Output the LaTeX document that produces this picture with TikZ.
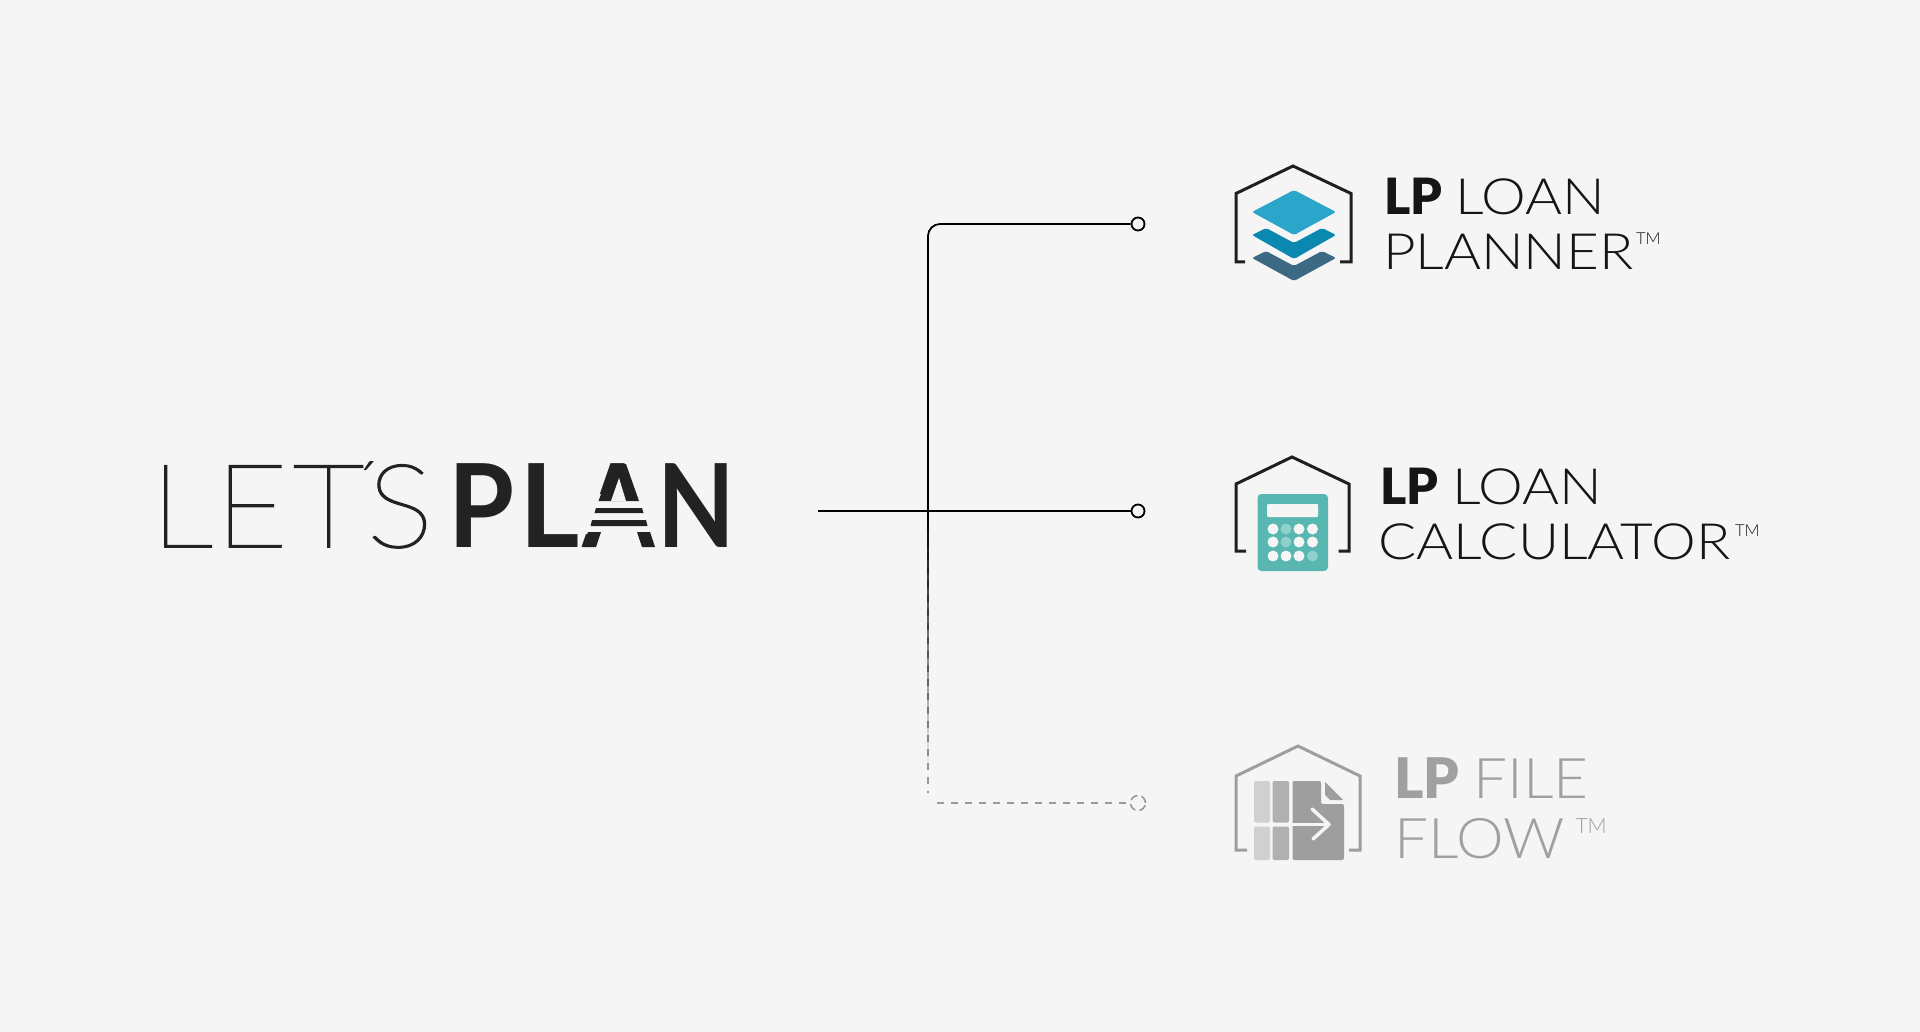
\documentclass[tikz,border=0pt]{standalone}
\usepackage{fontspec}
\setmainfont{Lato}
\newfontfamily\latoT{Lato Light}
\newfontfamily\latoS{Lato Light}[FakeStretch=1.13]
\newfontfamily\latoG{Lato Light}[FakeStretch=1.075]
\newfontfamily\latoH{Lato Thin}[FakeStretch=1.08,FakeBold=1.6]
\newfontfamily\latoB{Lato Black}
\newfontfamily\latoBd{Lato Bold}
\newfontfamily\latoBa{Lato Bold}[FakeStretch=0.88]
\newfontfamily\latoBp{Lato Bold}[FakeStretch=0.92]
\newfontfamily\latoBn{Lato Bold}[FakeStretch=0.87]
\definecolor{bgc}{HTML}{F5F5F5}
\definecolor{ink}{HTML}{222222}
\definecolor{inkb}{HTML}{151515}
\definecolor{gr}{HTML}{A0A0A0}
\definecolor{dashc}{HTML}{9A9A9A}
\definecolor{c1}{HTML}{2BA5C9}
\definecolor{c2}{HTML}{0A88B0}
\definecolor{c3}{HTML}{3C6A85}
\definecolor{teal}{HTML}{58B7B1}
\definecolor{teall}{HTML}{8FD0CB}
\definecolor{gl}{HTML}{D0D0D0}
\definecolor{gm}{HTML}{B0B0B0}
\definecolor{gd}{HTML}{9E9E9E}
\tikzset{
  x=1pt,y=-1pt,
  txt/.style={anchor=base west,inner sep=0pt,outer sep=0pt},
  big/.style={txt,font=\fontsize{116}{116}\selectfont\latoH,text=ink},
  bigq/.style={txt,font=\fontsize{67}{67}\selectfont\latoT,text=ink},
  bigb/.style={txt,font=\fontsize{116}{116}\selectfont\latoBd,text=ink},
  bigp/.style={txt,font=\fontsize{116}{116}\selectfont\latoBp,text=ink},
  bign/.style={txt,font=\fontsize{116}{116}\selectfont\latoBn,text=ink},
  biga/.style={txt,font=\fontsize{116}{116}\selectfont\latoBa,text=ink},
  lpb/.style={txt,font=\fontsize{50}{50}\selectfont\latoB,text=inkb},
  lpl/.style={txt,font=\fontsize{50}{50}\selectfont\latoS,text=inkb},
  tm/.style={txt,font=\fontsize{16.5}{16.5}\selectfont\latoT,text=inkb},
  lpbg/.style={txt,font=\fontsize{56}{56}\selectfont\latoB,text=gr},
  lplg/.style={txt,font=\fontsize{56}{56}\selectfont\latoG,text=gr},
  tmg/.style={txt,font=\fontsize{21}{21}\selectfont\latoT,text=gr},
  conn/.style={line width=1.8pt,draw=black},
  dconn/.style={line width=1.6pt,draw=dashc,dash pattern=on 7pt off 7pt},
  endc/.style={circle,draw=black,line width=1.8pt,minimum size=13pt,inner sep=0pt,fill=bgc},
  endd/.style={circle,draw=dashc,line width=1.6pt,minimum size=15pt,inner sep=0pt,dash pattern=on 8pt off 4.2pt},
  house/.style={line width=3pt,draw=#1,miter limit=10},
  lay/.style={fill=#1,rounded corners=2pt},
  key/.style={fill=#1,draw=none,circle,minimum size=11pt,inner sep=0pt},
}
\begin{document}
\begin{tikzpicture}
\fill[bgc] (0,0) rectangle (1920,1032);
\useasboundingbox (0,0) rectangle (1920,1032);
% connectors
\coordinate (root) at (818,511);
\coordinate (junc) at (928,511);
\coordinate (vend) at (928,793);
\coordinate (hstart) at (937,803);
\node[endc] (e1) at (1138,224) {};
\node[endc] (e2) at (1138,511) {};
\node[endd] (e3) at (1138,803) {};
\draw[dconn] (junc) -- (vend);
\draw[dconn] (hstart) -- (e3);
\foreach \i in {0,...,51}
  \draw[line width=1.8pt,draw=black,opacity={1-\i/52}] (928,{511+5*\i}) -- (928,{516+5*\i});
\draw[conn,rounded corners=12pt] (junc) |- (e1);
\draw[conn] (root) -- (e2);
% LET'S PLAN
\node[big] (l1) at (150.5,547) {L};
\node[big] (l2) at (215,547) {E};
\node[big] (l3) at (293,547) {T};
\node[bigq] (l4) at (353.5,509.5) {´};
\node[big] (l5) at (367,547) {S};
\node[bigp] (p1) at (448,547) {P};
\node[bigb] (p2) at (519,547) {L};
\node[biga] (p3) at (582,547) {A};
\node[bign] (p4) at (657,547) {N};
% striped A drawn over the letter
\fill[bgc] (578,494) rectangle (662,534);
\fill[bgc] (601,532) -- (637,532) -- (643,549) -- (595,549) -- cycle;
\fill[ink] (612,464) -- (626,464) -- (639,501) -- (598.5,501) -- cycle;
\fill[bgc] (619,478) -- (626,501) -- (611,501) -- cycle;
\fill[ink] (596,508) -- (642,508) -- (643.5,513) -- (594.5,513) -- cycle;
\fill[ink] (592,520) -- (646,520) -- (647.5,526) -- (590.5,526) -- cycle;
\fill[ink] (588,532) -- (601,532) -- (596,547) -- (583,547) -- cycle;
\fill[ink] (637,532) -- (650,532) -- (655,547) -- (642,547) -- cycle;
% LP LOAN PLANNER
\draw[house=black!88] (1245,262) -- (1236,262) -- (1236,193.5) -- (1293,166) -- (1351,193.5) -- (1351,262) -- (1340,262);
\fill[lay=c3] (1252,258) -- (1266,251) -- (1294,266) -- (1322,251) -- (1336,258) -- (1294,281) -- cycle;
\fill[lay=c2] (1252,235) -- (1266,228) -- (1294,243) -- (1322,228) -- (1336,235) -- (1294,259) -- cycle;
\fill[lay=c1] (1252,212) -- (1294,190) -- (1336,212) -- (1294,235) -- cycle;
\node[lpb] (t1a) at (1384,215) {LP};
\node[lpl] (t1b) at (1455,215) {LOAN};
\node[lpl] (t1c) at (1383,270) {PLANNER};
\node[tm] (t1d) at (1636,245) {TM};
% LP LOAN CALCULATOR
\draw[house=black!88] (1246,551) -- (1236,551) -- (1236,484) -- (1292,457) -- (1349,484) -- (1349,551) -- (1338.5,551);
\fill[teal,rounded corners=4pt] (1257.5,494) rectangle (1328,571);
\fill[bgc,rounded corners=1pt] (1267,504) rectangle (1318,517);
\foreach \kx/\ky/\kc in {1273/529/bgc,1286/529/teall,1299/529/bgc,1312.5/529/bgc,1273/542/bgc,1286/542/teall,1299/542/bgc,1312.5/542/bgc,1273/556/bgc,1286/556/bgc,1299/556/bgc,1312.5/556/teall}
  \node[key=\kc] at (\kx,\ky) {};
\node[lpb] (t2a) at (1380,504) {LP};
\node[lpl] (t2b) at (1452.5,504) {LOAN};
\node[lpl] (t2c) at (1378.5,559) {CALCULATOR};
\node[tm] (t2d) at (1735,536) {TM};
% LP FILE FLOW
\draw[house=gd] (1247,850) -- (1236,850) -- (1236,776) -- (1298,746) -- (1360,776) -- (1360,850) -- (1349,850);
\fill[gl,rounded corners=2pt] (1254,781) rectangle (1270,822.5);
\fill[gl,rounded corners=2pt] (1254,826.5) rectangle (1270,860);
\fill[gm,rounded corners=2pt] (1272.5,781) rectangle (1289,822.5);
\fill[gm,rounded corners=2pt] (1272.5,826.5) rectangle (1289,860);
\fill[gd,rounded corners=2pt] (1292.5,781) -- (1321,781) -- (1321,804) -- (1344,804) -- (1344,860) -- (1292.5,860) -- cycle;
\fill[gd] (1325,782) -- (1343,800) -- (1330,800) -- (1325,795) -- cycle;
\draw[bgc,line width=3.5pt] (1288,824.5) -- (1327,824.5);
\draw[bgc,line width=3.5pt,line cap=round,line join=round] (1312,809) -- (1329,824.5) -- (1313,839);
\node[lpbg] (t3a) at (1394,798) {LP};
\node[lplg] (t3b) at (1473.5,798) {FILE};
\node[lplg] (t3c) at (1394.5,858) {FLOW};
\node[tmg] (t3d) at (1575.5,833) {TM};
\end{tikzpicture}
\end{document}
